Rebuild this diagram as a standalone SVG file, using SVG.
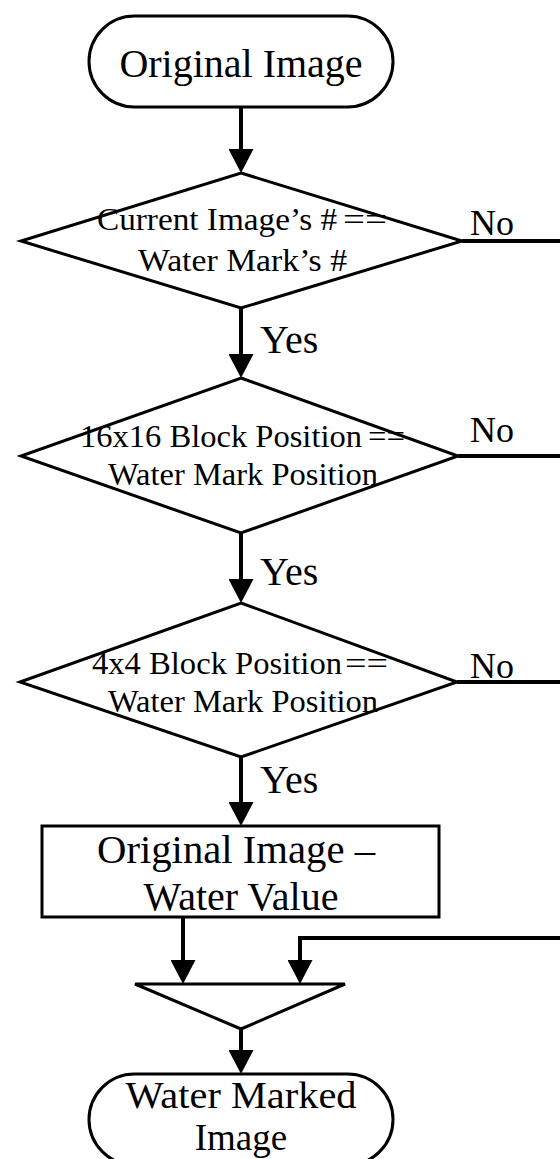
<svg xmlns="http://www.w3.org/2000/svg" width="560" height="1159" viewBox="0 0 560 1159">
<style>
.shape{fill:#fff;stroke:#000;stroke-width:3}
.conn{fill:none;stroke:#000;stroke-width:4}
.t{font-family:"Liberation Serif","Times New Roman",serif;fill:#000}
.big{font-size:40px}
.end{font-size:37px}
.dia{font-size:32px}
.lab{font-size:40px}
.no{font-size:36px}
</style>
<defs>
<marker id="ah" markerUnits="userSpaceOnUse" markerWidth="24" markerHeight="25" refX="14" refY="12.5" orient="auto" viewBox="0 0 24 25">
<path d="M0,0 L24,12.5 L0,25 z" fill="#000"/>
</marker>
</defs>
<rect width="560" height="1159" fill="#fff"/>
<g id="connectors">
<line class="conn" x1="241" y1="107" x2="241" y2="163" marker-end="url(#ah)"/>
<line class="conn" x1="241" y1="308" x2="241" y2="368" marker-end="url(#ah)"/>
<line class="conn" x1="241" y1="533" x2="241" y2="593" marker-end="url(#ah)"/>
<line class="conn" x1="241" y1="757" x2="241" y2="816" marker-end="url(#ah)"/>
<line class="conn" x1="462" y1="241" x2="560" y2="241"/>
<line class="conn" x1="458" y1="456" x2="560" y2="456"/>
<line class="conn" x1="457" y1="682" x2="560" y2="682"/>
<line class="conn" x1="183" y1="917" x2="183" y2="974" marker-end="url(#ah)"/>
<polyline class="conn" points="560,938 300,938 300,974" marker-end="url(#ah)"/>
<line class="conn" x1="241" y1="1029" x2="241" y2="1064" marker-end="url(#ah)"/>
<text class="t no" x="470" y="235">No</text>
<text class="t no" x="470" y="442">No</text>
<text class="t no" x="470" y="678">No</text>
<text class="t lab" x="260" y="353">Yes</text>
<text class="t lab" x="260" y="585">Yes</text>
<text class="t lab" x="260" y="793">Yes</text>
</g>
<g id="start">
<rect class="shape" x="89" y="16" width="304" height="91" rx="45.5"/>
<text class="t big" x="241" y="77" text-anchor="middle">Original Image</text>
</g>
<g id="d1">
<polygon class="shape" points="241,173 462,241 241,308 21,241"/>
<text class="t dia" x="97" y="230" textLength="240" lengthAdjust="spacingAndGlyphs">Current Image’s  #</text>
<text class="t dia" x="343" y="230" textLength="44" lengthAdjust="spacingAndGlyphs">==</text>
<text class="t dia" x="138" y="271" textLength="209" lengthAdjust="spacingAndGlyphs">Water Mark’s  #</text>
</g>
<g id="d2">
<polygon class="shape" points="241,378 458,456 241,533 21,456"/>
<text class="t dia" x="80" y="447" textLength="282" lengthAdjust="spacingAndGlyphs">16x16 Block Position</text>
<text class="t dia" x="368" y="447" textLength="37" lengthAdjust="spacingAndGlyphs">==</text>
<text class="t dia" x="108" y="485" textLength="270" lengthAdjust="spacingAndGlyphs">Water Mark Position</text>
</g>
<g id="d3">
<polygon class="shape" points="241,603 457,682 241,757 20,682"/>
<text class="t dia" x="92" y="674" textLength="250" lengthAdjust="spacingAndGlyphs">4x4 Block Position</text>
<text class="t dia" x="345" y="674" textLength="43" lengthAdjust="spacingAndGlyphs">==</text>
<text class="t dia" x="108" y="712" textLength="270" lengthAdjust="spacingAndGlyphs">Water Mark Position</text>
</g>
<g id="subtract">
<rect class="shape" x="42" y="826" width="397" height="91"/>
<text class="t big" x="97" y="863" textLength="278" lengthAdjust="spacingAndGlyphs">Original Image –</text>
<text class="t big" x="241" y="910" text-anchor="middle">Water Value</text>
</g>
<g id="merge">
<polygon class="shape" points="135,984 345,984 241,1029"/>
</g>
<g id="end">
<rect class="shape" x="89" y="1074" width="304" height="91" rx="45.5"/>
<text class="t end" x="241" y="1108" text-anchor="middle" textLength="231" lengthAdjust="spacingAndGlyphs">Water Marked</text>
<text class="t end" x="241" y="1150" text-anchor="middle">Image</text>
</g>
</svg>
